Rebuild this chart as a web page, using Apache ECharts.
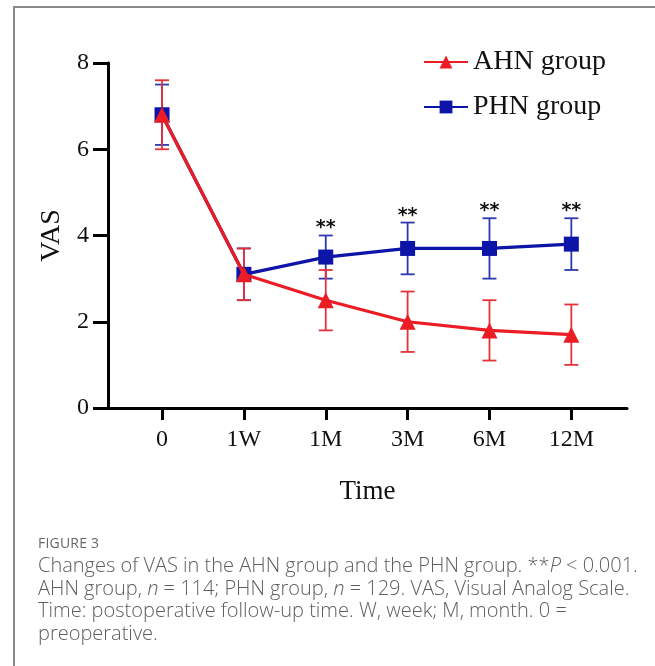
<!DOCTYPE html>
<html>
<head>
<meta charset="utf-8">
<script src="https://cdn.jsdelivr.net/npm/echarts@6/dist/echarts.min.js"></script>
<style>
  html, body { margin: 0; padding: 0; background: #fff; }
  #wrap { position: relative; width: 655px; height: 666px; overflow: hidden; }
  #frame { position: absolute; left: 13px; top: 6px; width: 700px; height: 700px;
           border-left: 2px solid #8a8a8a; border-top: 2px solid #8a8a8a; }
  #chart { position: absolute; left: 0; top: 0; width: 655px; height: 666px; }
  #cap { position: absolute; left: 38px; top: 533px; width: 612px;
         font-family: "Open Sans", "Noto Sans", sans-serif; color: #5e5e5e; }
  #cap .fig { font-size: 14px; letter-spacing: 0.2px; margin-bottom: 2px; color: #666; }
  #cap .txt { font-size: 20px; line-height: 22.6px; font-weight: 300; }
</style>
</head>
<body>
<div id="wrap">
  <div id="frame"></div>
  <div id="chart"></div>
  <div id="cap">
    <div class="fig">FIGURE 3</div>
    <div class="txt">Changes of VAS in the AHN group and the PHN group. **<i>P</i> &lt; 0.001. AHN group, <i>n</i> = 114; PHN group, <i>n</i> = 129. VAS, Visual Analog Scale. Time: postoperative follow-up time. W, week; M, month. 0 = preoperative.</div>
  </div>
</div>
<script>
const categories = ['0', '1W', '1M', '3M', '6M', '12M'];
const ahnMean  = [6.8, 3.1, 2.5, 2.0, 1.8, 1.7];
const ahnLow   = [6.0, 2.5, 1.8, 1.3, 1.1, 1.0];
const ahnHigh  = [7.6, 3.7, 3.2, 2.7, 2.5, 2.4];
const phnMean  = [6.8, 3.1, 3.5, 3.7, 3.7, 3.8];
const phnLow   = [6.1, 2.5, 3.0, 3.1, 3.0, 3.2];
const phnHigh  = [7.5, 3.7, 4.0, 4.3, 4.4, 4.4];
const sigMarks = ['', '', '**', '**', '**', '**'];

const RED = '#ec1c24';
const BLUE = '#0d14a8';
const SERIF = '"Liberation Serif", "Times New Roman", serif';

function errSeries(name, low, high, color) {
  return {
    type: 'custom',
    name: name + ' err',
    data: categories.map((c, i) => [i, low[i], high[i]]),
    silent: true,
    z: 2,
    renderItem: function (params, api) {
      const x = api.value(0);
      const lo = api.coord([x, api.value(1)]);
      const hi = api.coord([x, api.value(2)]);
      const w = 7;
      const style = { stroke: color, lineWidth: 1.8, fill: null };
      return {
        type: 'group',
        children: [
          { type: 'line', shape: { x1: lo[0], y1: lo[1], x2: hi[0], y2: hi[1] }, style: style },
          { type: 'line', shape: { x1: lo[0] - w, y1: lo[1], x2: lo[0] + w, y2: lo[1] }, style: style },
          { type: 'line', shape: { x1: hi[0] - w, y1: hi[1], x2: hi[0] + w, y2: hi[1] }, style: style }
        ]
      };
    }
  };
}

const chart = echarts.init(document.getElementById('chart'), null, { renderer: 'canvas' });
chart.setOption({
  animation: false,
  backgroundColor: 'transparent',
  grid: { left: 108, right: 28, top: 63, bottom: 258, containLabel: false },
  legend: {
    orient: 'vertical',
    left: 418,
    top: 43,
    itemWidth: 44,
    itemHeight: 16,
    itemGap: 17,
    data: ['AHN group', 'PHN group'],
    textStyle: { fontFamily: SERIF, fontSize: 28, color: '#111' }
  },
  xAxis: {
    type: 'value',
    min: -0.66,
    max: 5.68,
    name: 'Time',
    nameLocation: 'middle',
    nameGap: 70,
    nameTextStyle: { fontFamily: SERIF, fontSize: 27, color: '#111' },
    splitLine: { show: false },
    axisLine: { show: true, onZero: false, lineStyle: { color: '#000', width: 3 } },
    axisTick: { show: true, length: 12, lineStyle: { color: '#000', width: 3 },
                customValues: categories.map((c, i) => i) },
    axisLabel: { customValues: categories.map((c, i) => i),
                 formatter: v => categories[Math.round(v)],
                 fontFamily: SERIF, fontSize: 24, color: '#111', margin: 20 }
  },
  yAxis: {
    type: 'value',
    min: 0,
    max: 8,
    interval: 2,
    name: 'VAS',
    nameLocation: 'middle',
    nameGap: 32,
    nameTextStyle: { fontFamily: SERIF, fontSize: 28, color: '#111' },
    splitLine: { show: false },
    axisLine: { show: true, onZero: false, lineStyle: { color: '#000', width: 3 } },
    axisTick: { show: true, length: 15, lineStyle: { color: '#000', width: 3 } },
    axisLabel: { fontFamily: SERIF, fontSize: 24, color: '#111', margin: 19,
                 formatter: v => String(v) }
  },
  series: [
    errSeries('PHN', phnLow, phnHigh, '#2b38b0'),
    errSeries('AHN', ahnLow, ahnHigh, '#e5323a'),
    {
      type: 'line',
      name: 'PHN group',
      data: phnMean.map((v, i) => [i, v]),
      symbol: 'rect',
      symbolSize: 15,
      lineStyle: { color: BLUE, width: 3.2 },
      itemStyle: { color: BLUE },
      z: 3
    },
    {
      type: 'line',
      name: 'AHN group',
      data: ahnMean.map((v, i) => [i, v]),
      symbol: 'triangle',
      symbolSize: 16,
      lineStyle: { color: RED, width: 3.2 },
      itemStyle: { color: RED },
      z: 4
    },
    {
      type: 'custom',
      name: 'sig',
      silent: true,
      z: 5,
      data: phnHigh.map((v, i) => [i, v]).filter((d, i) => sigMarks[i]),
      renderItem: function (params, api) {
        const i = api.value(0);
        const p = api.coord([i, api.value(1)]);
        return {
          type: 'text',
          x: p[0],
          y: p[1] - 7,
          style: {
            text: sigMarks[i],
            fontFamily: '"DejaVu Sans", sans-serif',
            fontWeight: 'bold',
            fontSize: 19,
            fill: '#111',
            align: 'center',
            verticalAlign: 'middle'
          }
        };
      }
    }
  ]
});
</script>
</body>
</html>
